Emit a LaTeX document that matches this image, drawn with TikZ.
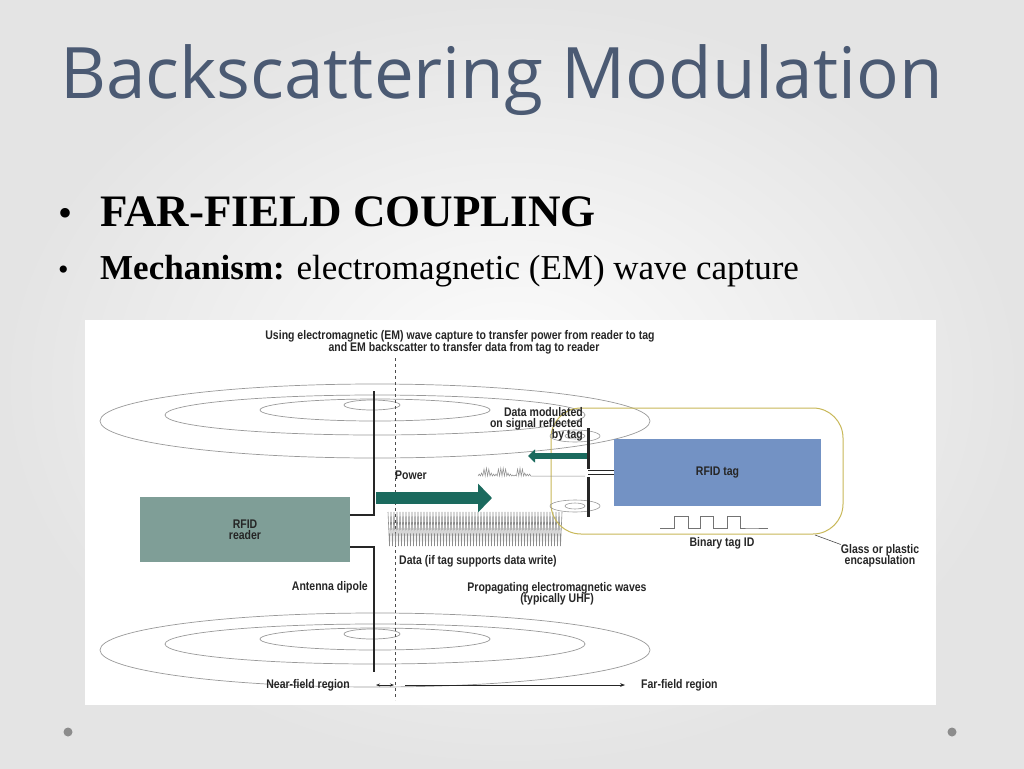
\documentclass[tikz,border=0pt]{standalone}
\usepackage{fontspec}
\setmainfont{Liberation Serif}
\newfontfamily\titlefont{Open Sans}
\newfontfamily\cond[FakeStretch=0.84]{Liberation Sans}
\usetikzlibrary{arrows.meta}
\definecolor{bgrey}{HTML}{E4E4E4}
\definecolor{titleblue}{HTML}{4B5A73}
\definecolor{readerfill}{HTML}{7F9E97}
\definecolor{tagfill}{HTML}{7392C4}
\definecolor{teal}{HTML}{1B6A5E}
\definecolor{capsule}{HTML}{C8B858}
\tikzset{
  lbl/.style={font=\cond\bfseries\fontsize{12.5}{13}\selectfont, text=black!85, inner sep=0pt, align=center},
  field/.style={draw=black!40, line width=0.7pt},
  bigarrow/.style={-{Triangle[length=14pt,width=28pt]}, line width=12pt, teal},
}
\begin{document}
\begin{tikzpicture}[x=1pt,y=-1pt]
  % slide background
  \useasboundingbox (0,0) rectangle (1024,768);
  \fill[inner color=white!92!bgrey, outer color=bgrey] (0,0) rectangle (1024,768);
  \node[anchor=base west, inner sep=0pt, text=titleblue, font=\titlefont\fontsize{71}{78}\selectfont] (title) at (60,98) {Backscattering Modulation};
  \node[anchor=base west, inner sep=0pt, font=\fontsize{40}{44}\selectfont] (dot1) at (58,226) {\textbullet};
  \node[anchor=base west, inner sep=0pt, font=\fontsize{45}{48}\selectfont] (b1) at (100,226) {\textbf{FAR-FIELD COUPLING}};
  \node[anchor=base west, inner sep=0pt, font=\fontsize{30}{32}\selectfont] (dot2) at (58,279) {\textbullet};
  \node[anchor=base west, inner sep=0pt, font=\fontsize{35}{38}\selectfont] (b2) at (100,279) {\textbf{Mechanism:} electromagnetic (EM) wave capture};
  \fill[black!45] (68,732) circle (4.5) (952,732) circle (4.5);

  % figure
  \fill[white] (85,320) rectangle (936,705);
  \node[lbl] (head) at (460,342) {Using electromagnetic (EM) wave capture to transfer power from reader to tag\\[-1pt]\hspace*{8pt}and EM backscatter to transfer data from tag to reader};

  % field rings
  \foreach \cy in {0,229} {
    \draw[field] (375,421+\cy) ellipse (275 and 37);
    \draw[field] (375,415+\cy) ellipse (210 and 20);
    \draw[field] (375,410+\cy) ellipse (115 and 11);
    \draw[field] (372,405+\cy) ellipse (28 and 5);
  }
  \draw[dashed, black!70] (395,358) -- (395,700);

  % reader
  \node[fill=readerfill, minimum width=210pt, minimum height=65pt, lbl] (reader) at (245,529.5) {RFID\\[-2pt]reader};
  \draw[line width=2.2pt, black!85] (350,515) -| (374,391);
  \draw[line width=2.2pt, black!85] (350,547) -| (374,672);
  \draw[bigarrow] (376,498) -- (492,498);
  \node[lbl, anchor=west] (power) at (395,475) {Power};
  \draw[black!45, line width=0.6pt] (388,512) \foreach \i in {0,...,57} {-- ++(1.5,34) -- ++(1.5,-34)};
  \node[lbl, anchor=west] (write) at (399,561) {Data (if tag supports data write)};

  % tag
  \draw[capsule, line width=1pt, rounded corners=30pt] (551,408) rectangle (843,534);
  \foreach \cy in {436,506} {
    \draw[field, line width=0.6pt] (575,\cy) ellipse (25 and 6);
    \draw[field, line width=0.6pt] (575,\cy) ellipse (10 and 3);
  }
  \node[fill=tagfill, minimum width=207pt, minimum height=67pt, lbl] (tag) at (717.5,472.5) {RFID tag};
  \draw[line width=3pt, black!85] (588,428) -- (588,469) (588,477) -- (588,517);
  \draw[black!85, line width=0.8pt] (588,470) -- (tag.west |- 0,470) (588,474) -- (tag.west |- 0,474);
  \draw[-{Triangle[length=7pt,width=13pt]}, line width=6pt, teal] (587,456) -- (528,456);
  \draw[black!45, line width=0.5pt] (478,476) \foreach \h in {2,3,7,8,7,3,2,2,7,8,8,7,3,2,1,1,7,8,7,3,2,2} {-- ++(1.2,-\h) -- ++(1.2,\h)} -- (585,476);
  \node[lbl, align=right, anchor=north east] (refl) at (583,407) {Data modulated\\[-2pt]on signal reflected\\[-2pt]by tag};
  \draw[black!55, line width=0.8pt] (660,528) -- (674,528) |- (688,516) |- (700,528) |- (713,516) |- (727,528) |- (740,516) |- (750,528) -- (768,528);
  \node[lbl] (binid) at (722,543) {Binary tag ID};
  \node[lbl] (glass) at (880,556) {Glass or plastic\\[-2pt]encapsulation};
  \draw[black!70, line width=0.6pt] (815,535) -- (glass.north west);

  % lower labels
  \node[lbl, anchor=east] (antenna) at (368,587) {Antenna dipole};
  \node[lbl] (prop) at (557,594) {Propagating electromagnetic waves\\[-2pt](typically UHF)};
  \node[lbl, anchor=east] (near) at (350,685) {Near-field region};
  \node[lbl, anchor=west] (far) at (641,685) {Far-field region};
  \coordinate (farend) at (625,685);
  \draw[{Stealth[length=4pt]}-{Stealth[length=4pt]}, black!85, line width=0.6pt] (376,685) -- (394,685);
  \draw[-{Stealth[length=5pt]}, black!85, line width=0.6pt] (405,685) -- (farend);
\end{tikzpicture}
\end{document}
